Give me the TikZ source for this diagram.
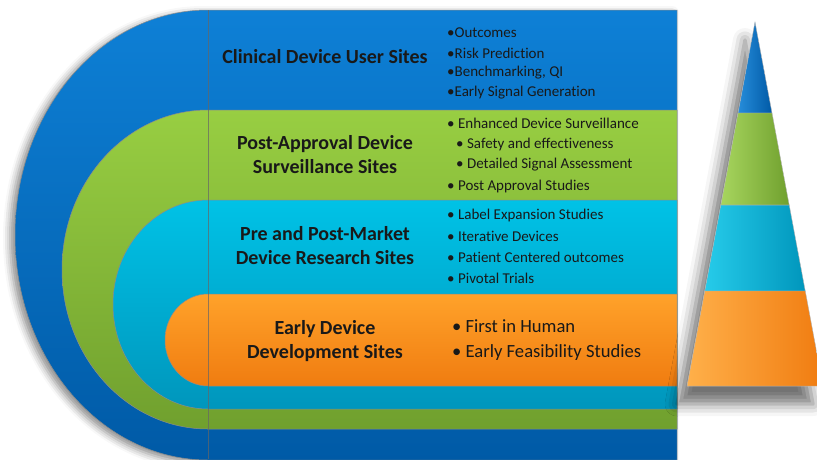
\documentclass[tikz,border=0pt]{standalone}
\usepackage{fontspec}
\setmainfont[Ligatures = NoCommon]{Carlito}
\usetikzlibrary{calc,shadows.blur}

\definecolor{bandblue}{RGB}{14,128,214}
\definecolor{bandbluedark}{RGB}{0,90,166}
\definecolor{bandgreen}{RGB}{152,206,66}
\definecolor{bandgreendark}{RGB}{112,160,46}
\definecolor{bandcyan}{RGB}{0,194,230}
\definecolor{bandcyandark}{RGB}{0,150,188}
\definecolor{bandorange}{RGB}{255,162,42}
\definecolor{bandorangedark}{RGB}{240,124,16}

\tikzset{
	band/.style = {draw = black!45, line width = 0.5pt},
	sitetitle/.style = {font = \bfseries\fontsize{20}{24}\selectfont, align = center, text = black!90},
	item/.style = {anchor = west, inner sep = 0pt, font = \fontsize{15}{18}\selectfont, text = black!90},
	bigitem/.style = {item, font = \fontsize{18.6}{22}\selectfont},
	tier/.style = {draw = black!30, line width = 0.4pt},
}

\begin{document}
\begin{tikzpicture}[x = 1pt, y = -1pt]
	\useasboundingbox (0, 0) rectangle (817, 459);
	% nested bands
	\path[band, top color = bandblue, bottom color = bandbluedark,
		blur shadow = {shadow xshift = -5pt, shadow yshift = -3pt, shadow blur radius = 7pt, shadow opacity = 45}]
		(677, 10) -- (208, 10) arc[start angle = 270, end angle = 90, x radius = 193, y radius = 225] -- (677, 460) -- cycle;
	\path[band, top color = bandgreen, bottom color = bandgreendark]
		(677, 110) -- (208, 110) arc[start angle = 270, end angle = 90, x radius = 146, y radius = 159.5] -- (677, 429) -- cycle;
	\path[band, top color = bandcyan, bottom color = bandcyandark]
		(677, 200) -- (208, 200) arc[start angle = 270, end angle = 90, x radius = 95, y radius = 104.5] -- (677, 409) -- cycle;
	\path[band, top color = bandorange, bottom color = bandorangedark]
		(677, 294) -- (208, 294) arc[start angle = 270, end angle = 90, x radius = 43, y radius = 46] -- (677, 386) -- cycle;
	\draw[black!60, opacity = 0.7] (208, 10) -- (208, 459);

	% titles
	\node[sitetitle] (clinical) at (325, 57) {Clinical Device User Sites};
	\node[sitetitle] (postapproval) at (325, 155) {Post-Approval Device\\Surveillance Sites};
	\node[sitetitle] (premarket) at (325, 245.5) {Pre and Post-Market\\Device Research Sites};
	\node[sitetitle] (earlydev) at (325, 341) {Early Device\\Development Sites};

	% bullet lists
	\node[item] (outcomes) at (447, 33) {•Outcomes};
	\node[item] (risk) at (447, 53) {•Risk Prediction};
	\node[item] (bench) at (447, 73) {•Benchmarking, QI};
	\node[item] (signal) at (447, 93) {•Early Signal Generation};
	\node[item] (enhanced) at (447, 123) {• Enhanced Device Surveillance};
	\node[item] (safety) at (456, 144) {• Safety and effectiveness};
	\node[item] (detailed) at (456, 165) {• Detailed Signal Assessment};
	\node[item] (poststud) at (447, 186) {• Post Approval Studies};
	\node[item] (label) at (447, 215) {• Label Expansion Studies};
	\node[item] (iterative) at (447, 236) {• Iterative Devices};
	\node[item] (patient) at (447, 257) {• Patient Centered outcomes};
	\node[item] (pivotal) at (447, 278) {• Pivotal Trials};
	\node[bigitem] (firsthuman) at (452, 326) {• First in Human};
	\node[bigitem] (feasibility) at (452, 353) {• Early Feasibility Studies};

	% pyramid
	\coordinate (apex) at (755, 22);
	\coordinate (bl) at (687, 386);
	\coordinate (br) at (823, 386);
	\coordinate (l1) at ($(apex)!0.25!(bl)$);
	\coordinate (r1) at ($(apex)!0.25!(br)$);
	\coordinate (l2) at ($(apex)!0.503!(bl)$);
	\coordinate (r2) at ($(apex)!0.503!(br)$);
	\coordinate (l3) at ($(apex)!0.739!(bl)$);
	\coordinate (r3) at ($(apex)!0.739!(br)$);
	\path[blur shadow = {shadow xshift = -10pt, shadow yshift = -18pt, shadow blur radius = 12pt, shadow opacity = 55}, fill = white]
		(apex) -- (br) -- (bl) -- cycle;
	\path[tier, left color = bandblue!90!white, right color = bandbluedark] (apex) -- (r1) -- (l1) -- cycle;
	\path[tier, left color = bandgreen!85!white, right color = bandgreendark] (l1) -- (r1) -- (r2) -- (l2) -- cycle;
	\path[tier, left color = bandcyan!85!white, right color = bandcyandark] (l2) -- (r2) -- (r3) -- (l3) -- cycle;
	\path[tier, left color = bandorange!85!white, right color = bandorangedark] (l3) -- (r3) -- (br) -- (bl) -- cycle;
\end{tikzpicture}
\end{document}
